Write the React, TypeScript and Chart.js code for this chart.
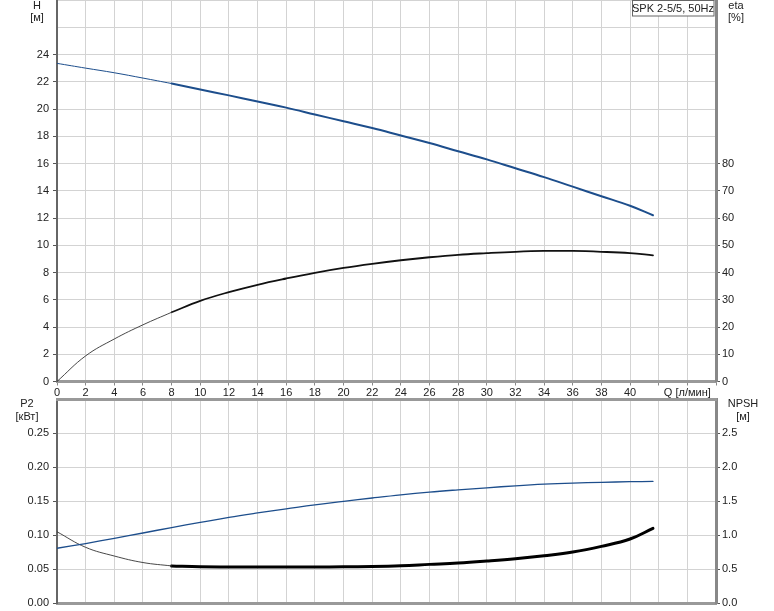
import React, { useEffect, useRef } from 'react';
import { Chart, registerables } from 'chart.js';
Chart.register(...registerables);

// Flow rate Q [л/мин]
const Q = [0, 2, 4, 6, 8, 10, 12, 14, 16, 18, 20, 22, 24, 26, 28, 30, 32, 34, 36, 38, 40, 41.6];
// Head H [м]
const H = [23.35, 23.0, 22.66, 22.27, 21.87, 21.43, 21.0, 20.55, 20.1, 19.6, 19.1, 18.6, 18.05, 17.5, 16.9, 16.3, 15.65, 15.0, 14.3, 13.6, 12.9, 12.2];
// Efficiency eta [%]
const ETA = [0, 9.4, 15.6, 20.8, 25.4, 29.6, 32.8, 35.5, 37.8, 39.9, 41.7, 43.2, 44.5, 45.6, 46.5, 47.1, 47.6, 47.9, 47.9, 47.6, 47.1, 46.3];
// Power P2 [кВт]
const P2 = [0.081, 0.088, 0.0956, 0.1035, 0.1115, 0.119, 0.1265, 0.133, 0.139, 0.145, 0.15, 0.155, 0.1597, 0.1637, 0.167, 0.17, 0.173, 0.1754, 0.177, 0.178, 0.179, 0.1794];
// NPSH [м]
const NPSH = [1.053, 0.824, 0.696, 0.6, 0.55, 0.538, 0.535, 0.534, 0.534, 0.535, 0.537, 0.542, 0.553, 0.573, 0.593, 0.622, 0.656, 0.7, 0.754, 0.838, 0.946, 1.103];

const THIN_END = 4; // index where thick (operating) part begins (Q = 8)
const TITLE = 'SPK 2-5/5, 50Hz';
const Q_LABEL = 'Q [л/мин]';

const FONT = "'Liberation Sans', Arial, sans-serif";
const TXT = '#222';
const GRID = '#d3d3d3';
const BLUE = '#1d4e8c';
const NONE = 'rgba(0,0,0,0)';

const pts = (ys: number[], from: number, to: number) =>
  Q.slice(from, to).map((q, i) => ({ x: q, y: ys[from + i] }));

const lineDs = (data: any[], color: string, width: number, axis: string) => ({
  data,
  borderColor: color,
  borderWidth: width,
  pointRadius: 0,
  fill: false,
  tension: 0.4,
  borderCapStyle: 'round' as const,
  yAxisID: axis,
});

function textPlugin(items: [string, number, number][], topLine: boolean, box: boolean) {
  return {
    id: 'texts',
    afterDraw(chart: any) {
      const ctx = chart.ctx;
      const a = chart.chartArea;
      ctx.save();
      if (topLine) {
        ctx.strokeStyle = '#999';
        ctx.lineWidth = 3;
        ctx.beginPath();
        ctx.moveTo(a.left - 1, a.top);
        ctx.lineTo(a.right + 1, a.top);
        ctx.stroke();
      }
      ctx.font = `11px ${FONT}`;
      ctx.fillStyle = TXT;
      ctx.textAlign = 'center';
      ctx.textBaseline = 'middle';
      items.forEach(([t, x, y]) => ctx.fillText(t, x, y));
      if (box) {
        ctx.fillStyle = '#fff';
        ctx.fillRect(632, 0.5, 82, 15.5);
        ctx.strokeStyle = '#666';
        ctx.lineWidth = 1;
        ctx.strokeRect(632.5, 0.5, 81.5, 15.5);
        ctx.fillStyle = TXT;
        ctx.fillText(TITLE, 673, 8.5);
      }
      ctx.restore();
    },
  };
}

const tickFont = { family: FONT, size: 11 };
const tickCol = (limit: number) => (c: any) => (c.tick && c.tick.value <= limit ? '#555' : NONE);

export default function App() {
  const topRef = useRef<HTMLCanvasElement>(null);
  const botRef = useRef<HTMLCanvasElement>(null);

  useEffect(() => {
    document.body.style.margin = '0';
    const c1 = new Chart(topRef.current!, {
      type: 'line',
      data: {
        datasets: [
          lineDs(pts(H, 0, THIN_END + 1), BLUE, 1, 'y'),
          lineDs(pts(H, THIN_END, Q.length), BLUE, 2, 'y'),
          lineDs(pts(ETA, 0, THIN_END + 1), '#333', 0.9, 'eta'),
          lineDs(pts(ETA, THIN_END, Q.length), '#111', 1.8, 'eta'),
        ] as any,
      },
      options: {
        animation: false,
        responsive: false,
        devicePixelRatio: 1,
        layout: { padding: 0 },
        plugins: { legend: { display: false }, tooltip: { enabled: false } },
        scales: {
          x: {
            type: 'linear',
            min: 0,
            max: 46,
            afterFit(s: any) { s.height = 18.5; s.paddingLeft = 0; s.paddingRight = 0; },
            ticks: {
              stepSize: 2, autoSkip: false, maxRotation: 0, padding: 1, color: TXT, font: tickFont,
              callback: (v: any) => (v <= 40 ? String(v) : v === 44 ? Q_LABEL : ''),
            },
            grid: { color: GRID, tickColor: '#888', tickLength: 4 },
            border: { color: '#999', width: 3 },
          },
          y: {
            position: 'left',
            min: 0,
            max: 28,
            afterFit(s: any) { s.width = 57; s.paddingTop = 0; s.paddingBottom = 0; },
            ticks: {
              stepSize: 2, autoSkip: false, padding: 4, color: TXT, font: tickFont,
              callback: (v: any) => (v <= 24 ? String(v) : ''),
            },
            grid: { color: GRID, tickColor: tickCol(24), tickLength: 4 },
            border: { color: '#666', width: 2 },
          },
          eta: {
            position: 'right',
            min: 0,
            max: 140,
            afterFit(s: any) { s.width = 58; s.paddingTop = 0; s.paddingBottom = 0; },
            ticks: {
              stepSize: 10, autoSkip: false, padding: 2, color: TXT, font: tickFont,
              callback: (v: any) => (v <= 80 ? String(v) : ''),
            },
            grid: { drawOnChartArea: false, tickColor: tickCol(80), tickLength: 4 },
            border: { color: '#888', width: 3 },
          },
        } as any,
      },
      plugins: [textPlugin([['H', 37, 5.5], ['[м]', 37, 17.5], ['eta', 736, 5.5], ['[%]', 736, 17.5]], false, true)],
    });

    const c2 = new Chart(botRef.current!, {
      type: 'line',
      data: {
        datasets: [
          lineDs(pts(P2, 0, Q.length), BLUE, 1.3, 'y'),
          lineDs(pts(NPSH, 0, THIN_END + 1), '#333', 0.9, 'npsh'),
          lineDs(pts(NPSH, THIN_END, Q.length), '#000', 3, 'npsh'),
        ] as any,
      },
      options: {
        animation: false,
        responsive: false,
        devicePixelRatio: 1,
        layout: { padding: { top: 9.5, left: 0, right: 0, bottom: 0 } },
        plugins: { legend: { display: false }, tooltip: { enabled: false } },
        scales: {
          x: {
            type: 'linear',
            min: 0,
            max: 46,
            afterFit(s: any) { s.height = 7.7; s.paddingLeft = 0; s.paddingRight = 0; },
            ticks: { stepSize: 2, autoSkip: false, display: false },
            grid: { color: GRID, drawTicks: false },
            border: { color: '#999', width: 3 },
          },
          y: {
            position: 'left',
            min: 0,
            max: 0.3,
            afterFit(s: any) { s.width = 57; s.paddingTop = 0; s.paddingBottom = 0; },
            ticks: {
              stepSize: 0.05, autoSkip: false, padding: 4, color: TXT, font: tickFont,
              callback: (v: any) => (v <= 0.2501 ? Number(v).toFixed(2) : ''),
            },
            grid: { color: GRID, tickColor: tickCol(0.2501), tickLength: 4 },
            border: { color: '#666', width: 2 },
          },
          npsh: {
            position: 'right',
            min: 0,
            max: 3,
            afterFit(s: any) { s.width = 58; s.paddingTop = 0; s.paddingBottom = 0; },
            ticks: {
              stepSize: 0.5, autoSkip: false, padding: 2, color: TXT, font: tickFont,
              callback: (v: any) => (v <= 2.501 ? Number(v).toFixed(1) : ''),
            },
            grid: { drawOnChartArea: false, tickColor: tickCol(2.501), tickLength: 4 },
            border: { color: '#888', width: 3 },
          },
        } as any,
      },
      plugins: [textPlugin([['P2', 27, 13.5], ['[кВт]', 27, 26.5], ['NPSH', 743, 14], ['[м]', 743, 27]], true, false)],
    });

    return () => { c1.destroy(); c2.destroy(); };
  }, []);

  return (
    <div style={{ position: 'relative', width: 774, height: 611, background: '#fff', overflow: 'hidden' }}>
      <canvas ref={topRef} width={774} height={400} style={{ position: 'absolute', left: 0, top: 0 }} />
      <canvas ref={botRef} width={774} height={221} style={{ position: 'absolute', left: 0, top: 390 }} />
    </div>
  );
}
